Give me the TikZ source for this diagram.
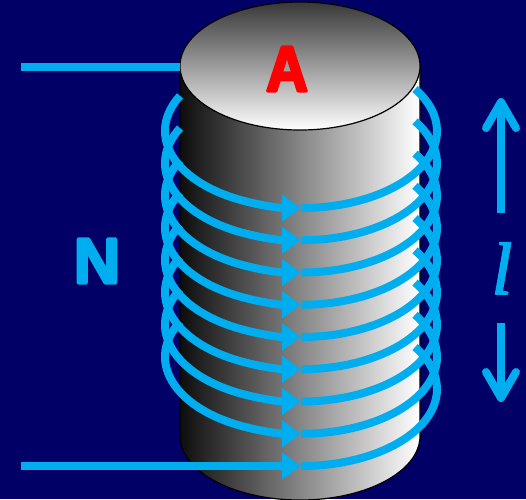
\documentclass[tikz,border=0pt]{standalone}
\usepackage{fontspec}
\setmainfont{Liberation Sans}
\newfontfamily\narrowsans[FakeStretch=0.9]{Liberation Sans}
\newfontfamily\serifit{Liberation Serif}
\usetikzlibrary{arrows.meta}

\definecolor{navy}{RGB}{0,0,102}
\definecolor{wire}{RGB}{0,174,239}
\definecolor{letterred}{RGB}{255,0,0}

% fill and stroke the glyphs together, with round joins, for soft letter ends
\newcommand{\softink}[2][3]{\special{pdf:literal direct 2 Tr 1 J 1 j #1 w}#2\special{pdf:literal direct 0 Tr}}

\begin{document}
\begin{tikzpicture}[x=1pt,y=-1pt,
  wirestyle/.style={draw=wire, line width=8pt},
  turnarrow/.style={-{Triangle[length=19pt,width=26pt]}},
  lenarrow/.style={draw=wire, line width=8pt, -{Straight Barb[length=26pt,width=30pt,round]}},
  cylline/.style={draw=black, line width=1.2pt},
  bigletter/.style={font=\bfseries\fontsize{64}{64}\selectfont}]

% background
\fill[navy] (0,0) rectangle (526,499);
\useasboundingbox (0,0) rectangle (526,499);

% cylinder body
\shade[left color=black!95, middle color=black!35, right color=white]
  (180,66) -- (180,436) arc[start angle=180, end angle=0, x radius=120, y radius=64] -- (420,66) -- cycle;
\draw[cylline]
  (180,66) -- (180,436) arc[start angle=180, end angle=0, x radius=120, y radius=64] -- (420,66);

% top face
\shade[top color=black!78, middle color=black!30, bottom color=white]
  (300,66) ellipse[x radius=120, y radius=64];
\draw[cylline] (300,66) ellipse[x radius=120, y radius=64];

\node[bigletter, text=letterred, anchor=base] (areaA) at (287,91) {\narrowsans\bfseries\softink{A}};

% lead wires
\coordinate (topleadstart) at (21,67);
\coordinate (topleadend) at (180,67);
\draw[wirestyle] (topleadstart) -- (topleadend);

% coil turns
\foreach \i in {0,...,7}{
  \pgfmathsetmacro{\yb}{208+32.25*\i}
  \pgfmathsetmacro{\cy}{\yb-77}
  \coordinate (turnstart\i) at ([shift={(301,\cy)}]207.2:136 and 77);
  \coordinate (turnmid\i) at (301,\yb);
  \draw[wirestyle, turnarrow] (turnstart\i) arc[start angle=207.2, end angle=90, x radius=136, y radius=77];
  \draw[wirestyle] (turnmid\i) arc[start angle=90, end angle=-33, x radius=136, y radius=77];
}

% bottom lead into the coil
\coordinate (botleadstart) at (21,466);
\coordinate (botleadmid) at (301,466);
\draw[wirestyle, turnarrow] (botleadstart) -- (botleadmid);
\draw[wirestyle] (botleadmid) arc[start angle=90, end angle=-33, x radius=136, y radius=77];

% labels
\node[bigletter, text=wire, anchor=base] (turnsN) at (97,283) {\softink{N}};
\node[text=wire, anchor=base, font=\serifit\itshape\fontsize{74}{74}\selectfont] (lenL) at (502,294) {\softink[1.6]{l}};

% length arrows
\coordinate (upfrom) at (501,213);
\coordinate (upto) at (501,98);
\coordinate (downfrom) at (501,323);
\coordinate (downto) at (501,402);
\draw[lenarrow] (upfrom) -- (upto);
\draw[lenarrow] (downfrom) -- (downto);
\end{tikzpicture}
\end{document}
